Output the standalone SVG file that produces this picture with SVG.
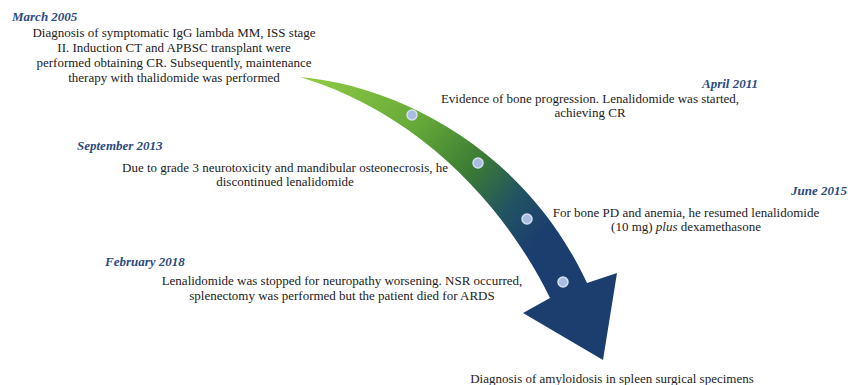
<svg xmlns="http://www.w3.org/2000/svg" width="858" height="385" viewBox="0 0 858 385">
<defs>
<linearGradient id="g" gradientUnits="userSpaceOnUse" x1="300" y1="77" x2="570" y2="300">
<stop offset="0" stop-color="#93cc45"/>
<stop offset="0.35" stop-color="#64a838"/>
<stop offset="0.55" stop-color="#3a7a35"/>
<stop offset="0.7" stop-color="#215263"/>
<stop offset="0.82" stop-color="#1b3e6e"/>
<stop offset="1" stop-color="#1b3e6e"/>
</linearGradient>
<style>
.d{font-family:"Liberation Serif","Times New Roman","DejaVu Serif",serif;font-size:13px;font-weight:bold;font-style:italic;fill:#2b4b80}
.t{font-family:"Liberation Serif","Times New Roman","DejaVu Serif",serif;font-size:13px;fill:#222;text-anchor:middle}
.dot{fill:#a9bde2;stroke:#d6e0f0;stroke-width:1.5}
</style>
</defs>
<g id="connectors">
<path id="arrow" d="M300,77 C400,86 525,150 587,283 L617,273 L603,360 L523,313 L550,298 C508,212 425,115 300,77 Z" fill="url(#g)"/>
</g>
<g id="dots">
<circle class="dot" cx="412" cy="115" r="5"/>
<circle class="dot" cx="478" cy="163" r="5"/>
<circle class="dot" cx="527" cy="219" r="5"/>
<circle class="dot" cx="563" cy="282" r="5"/>
</g>
<g id="n2005">
<text class="d" x="12" y="21">March 2005</text>
<text class="t" x="174" y="37">Diagnosis of symptomatic IgG lambda MM, ISS stage</text>
<text class="t" x="174" y="52">II. Induction CT and APBSC transplant were</text>
<text class="t" x="174" y="67">performed obtaining CR. Subsequently, maintenance</text>
<text class="t" x="174" y="82">therapy with thalidomide was performed</text>
</g>
<g id="n2011">
<text class="d" x="702" y="88">April 2011</text>
<text class="t" x="590" y="103">Evidence of bone progression. Lenalidomide was started,</text>
<text class="t" x="590" y="117">achieving CR</text>
</g>
<g id="n2013">
<text class="d" x="77" y="150">September 2013</text>
<text class="t" x="285" y="172">Due to grade 3 neurotoxicity and mandibular osteonecrosis, he</text>
<text class="t" x="285" y="186">discontinued lenalidomide</text>
</g>
<g id="n2015">
<text class="d" x="847" y="195" text-anchor="end">June 2015</text>
<text class="t" x="686" y="217">For bone PD and  anemia, he resumed lenalidomide</text>
<text class="t" x="686" y="231">(10 mg) <tspan font-style="italic">plus</tspan> dexamethasone</text>
</g>
<g id="n2018">
<text class="d" x="105" y="266">February 2018</text>
<text class="t" x="342" y="285">Lenalidomide was stopped for neuropathy worsening. NSR occurred,</text>
<text class="t" x="342" y="300">splenectomy was performed but the patient died for ARDS</text>
</g>
<g id="nfinal">
<text class="t" x="612" y="383">Diagnosis of amyloidosis in spleen surgical specimens</text>
</g>
</svg>
